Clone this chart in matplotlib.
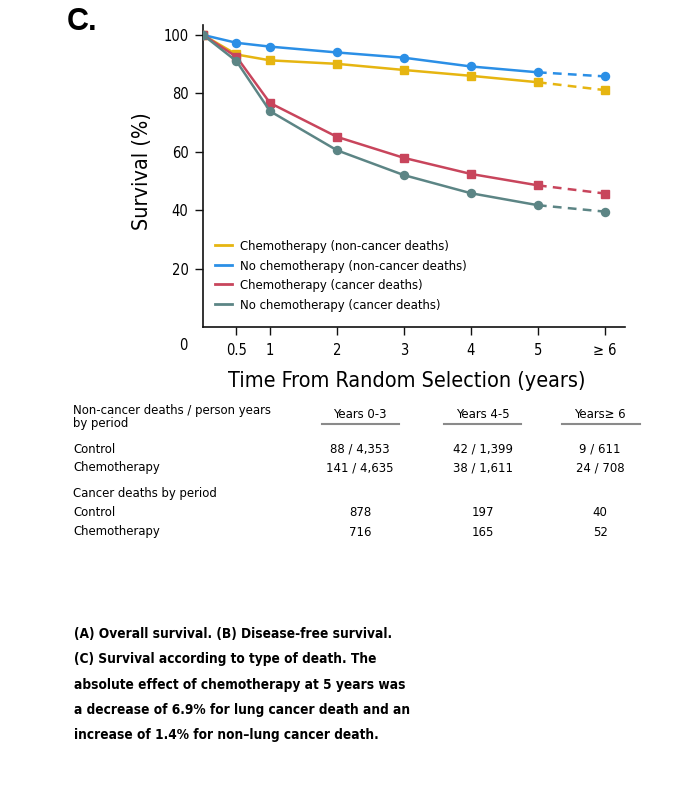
import matplotlib
matplotlib.use('Agg')
import matplotlib.pyplot as plt
from matplotlib import font_manager as fm
from matplotlib.lines import Line2D

names = {f.name for f in fm.fontManager.ttflist}
if 'Liberation Sans Narrow' in names:
    FAM = ['Liberation Sans Narrow', 'DejaVu Sans']
    STRETCH = 'normal'
elif any(f.name == 'DejaVu Sans' and f.stretch in ('condensed', 'semi-condensed')
         for f in fm.fontManager.ttflist):
    FAM = ['DejaVu Sans']
    STRETCH = 'condensed'
else:
    FAM = ['Liberation Sans', 'DejaVu Sans']
    STRETCH = 'normal'
plt.rcParams['font.family'] = FAM
plt.rcParams['font.stretch'] = STRETCH

# ---------------- data ----------------
times = [0, 0.5, 1, 2, 3, 4, 5, 6]
xtick_pos = [0.5, 1, 2, 3, 4, 5, 6]
xtick_labels = ['0.5', '1', '2', '3', '4', '5', '\u2265 6']
ytick_pos = [20, 40, 60, 80, 100]

chemo_noncancer = [100, 93.3, 91.3, 90.1, 88.0, 86.0, 83.8, 81.1]
nochemo_noncancer = [100, 97.3, 96.0, 94.0, 92.2, 89.2, 87.2, 85.8]
chemo_cancer = [100, 92.5, 76.7, 65.1, 57.9, 52.4, 48.5, 45.7]
nochemo_cancer = [100, 91.0, 73.9, 60.5, 52.0, 45.8, 41.7, 39.5]

series_labels = ['Chemotherapy (non-cancer deaths)',
                 'No chemotherapy (non-cancer deaths)',
                 'Chemotherapy (cancer deaths)',
                 'No chemotherapy (cancer deaths)']
series_values = [chemo_noncancer, nochemo_noncancer, chemo_cancer, nochemo_cancer]
series_colors = ['#e6b511', '#2b8fe6', '#c8455c', '#5c8585']
series_markers = ['s', 'o', 's', 'o']

table_title1 = 'Non-cancer deaths / person years\nby period'
table_headers = ['Years 0-3', 'Years 4-5', 'Years\u2265 6']
table_row_labels1 = ['Control', 'Chemotherapy']
noncancer_rows = [['88 / 4,353', '42 / 1,399', '9 / 611'],
                  ['141 / 4,635', '38 / 1,611', '24 / 708']]
table_title2 = 'Cancer deaths by period'
table_row_labels2 = ['Control', 'Chemotherapy']
cancer_rows = [['878', '197', '40'],
               ['716', '165', '52']]

caption_lines = ['(A) Overall survival. (B) Disease-free survival.',
                 '(C) Survival according to type of death. The',
                 'absolute effect of chemotherapy at 5 years was',
                 'a decrease of 6.9% for lung cancer death and an',
                 'increase of 1.4% for non\u2013lung cancer death.']

# ---------------- figure ----------------
W, H = 699, 789
fig = plt.figure(figsize=(W / 100, H / 100), dpi=100)
fig.patch.set_facecolor('white')

def fx(px):
    return px / W

def fy(py):
    return 1 - py / H

ax_left, ax_right, ax_top, ax_bot = 203, 625, 25, 327
ax = fig.add_axes([fx(ax_left), fy(ax_bot), (ax_right - ax_left) / W, (ax_bot - ax_top) / H])
ax.set_xlim(0, 6.3)
ax.set_ylim(0, 103.4)

for vals, col, mk in zip(series_values, series_colors, series_markers):
    ax.plot(times[:7], vals[:7], color=col, lw=1.8, marker=mk, ms=5.8, zorder=3)
    ax.plot(times[6:], vals[6:], color=col, lw=1.8, ls=(0, (3.5, 2.5)), marker=mk,
            ms=5.8, markevery=[1], zorder=3)

for s in ['top', 'right']:
    ax.spines[s].set_visible(False)
for s in ['left', 'bottom']:
    ax.spines[s].set_linewidth(1.2)
    ax.spines[s].set_color('#111111')

ax.set_xticks(xtick_pos)
ax.set_xticklabels(xtick_labels)
ax.set_yticks(ytick_pos)
ax.tick_params(axis='both', length=5.5, width=1.0, color='#111111', labelsize=10.5)
ax.tick_params(axis='x', pad=6)
ax.tick_params(axis='y', pad=5)

handles = [Line2D([0], [0], color=c, lw=2) for c in series_colors]
ax.legend(handles, series_labels, loc='upper left', bbox_to_anchor=(fx(215), fy(240)),
          bbox_transform=fig.transFigure, frameon=False, handlelength=1.3,
          handletextpad=0.6, labelspacing=0.5, borderpad=0, borderaxespad=0,
          fontsize=9.4)

fig.text(fx(183), fy(346), '0', fontsize=10.5, ha='center', va='center')
fig.text(fx(142), fy(171), 'Survival (%)', fontsize=15.5, rotation=90, ha='center', va='center')
fig.text(fx(407), fy(381), 'Time From Random Selection (years)', fontsize=15.5,
         ha='center', va='center')
fig.text(fx(67), fy(22), 'C.', fontsize=22, fontweight='bold', ha='left', va='center',
         family=['Liberation Sans', 'DejaVu Sans'])

# ---------------- table ----------------
col_centers = [360, 483, 600]
underlines = [(322, 399), (444, 521), (562, 640)]
tfs = 9.4
fig.text(fx(73), fy(417), table_title1, fontsize=tfs, ha='left', va='center', linespacing=0.95)
for cx, h, (a, b) in zip(col_centers, table_headers, underlines):
    fig.text(fx(cx), fy(414), h, fontsize=tfs, ha='center', va='center')
    fig.add_artist(Line2D([fx(a), fx(b)], [fy(424), fy(424)], color='#8a8a8a', lw=1.5,
                          transform=fig.transFigure))
for ry, lab, row in zip([449, 468], table_row_labels1, noncancer_rows):
    fig.text(fx(73), fy(ry), lab, fontsize=tfs, ha='left', va='center')
    for cx, v in zip(col_centers, row):
        fig.text(fx(cx), fy(ry), v, fontsize=tfs, ha='center', va='center')
fig.text(fx(73), fy(493), table_title2, fontsize=tfs, ha='left', va='center')
for ry, lab, row in zip([512, 532], table_row_labels2, cancer_rows):
    fig.text(fx(73), fy(ry), lab, fontsize=tfs, ha='left', va='center')
    for cx, v in zip(col_centers, row):
        fig.text(fx(cx), fy(ry), v, fontsize=tfs, ha='center', va='center')

# ---------------- caption ----------------
for i, line in enumerate(caption_lines):
    fig.text(fx(74), fy(634 + 25.3 * i), line, fontsize=9.8, fontweight='bold',
             ha='left', va='center')

fig.savefig('out.png', dpi=100, facecolor='white')
